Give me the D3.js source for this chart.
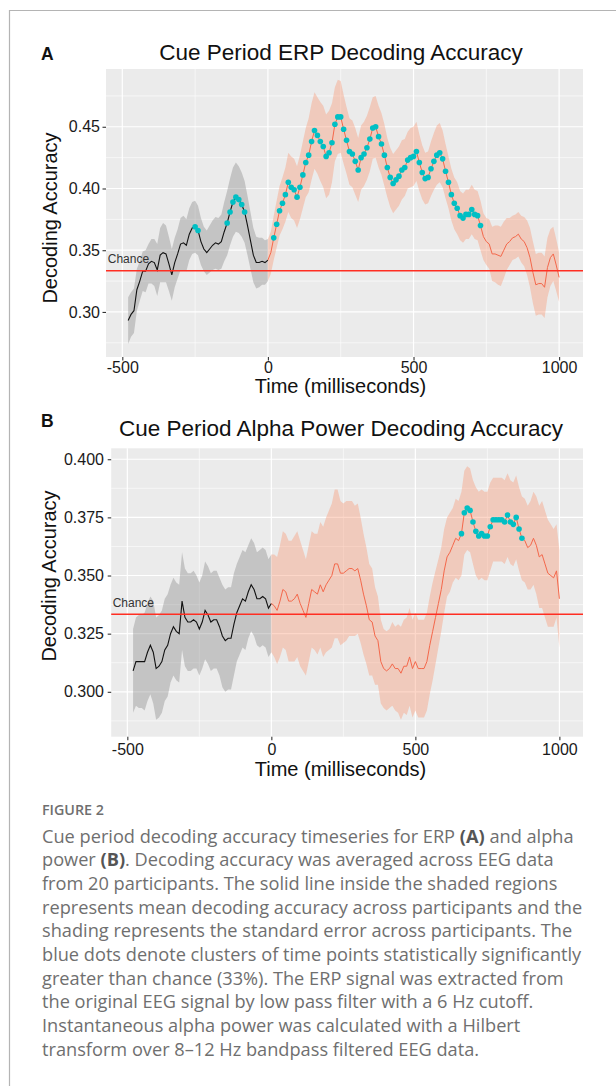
<!DOCTYPE html>
<html>
<head>
<meta charset="utf-8">
<script src="https://cdn.jsdelivr.net/npm/d3@7"></script>
<style>
  body { margin: 0; background: #fff; }
  svg { display: block; }
  .sans { font-family: "Liberation Sans", Arial, Helvetica, sans-serif; }
  .caption { font-family: "Open Sans", "Noto Sans", sans-serif; fill: #6f6f6f; }
</style>
</head>
<body>
<svg id="fig" width="616" height="1086"></svg>
<script>
// sampling grid of the time series (ms)
const START = -480;
const STEP = 10;

// panel A: ERP decoding accuracy, mean and standard error per sample
const ERP_MEAN = [
  0.293, 0.298, 0.301, 0.318, 0.325, 0.333, 0.333, 0.339, 0.341,
  0.340, 0.334, 0.346, 0.348, 0.347, 0.339, 0.330, 0.340, 0.347,
  0.355, 0.356, 0.354, 0.363, 0.368, 0.369, 0.366, 0.357, 0.351, 0.348,
  0.351, 0.354, 0.356, 0.355, 0.357, 0.365, 0.372, 0.381, 0.389, 0.393,
  0.391, 0.387, 0.381, 0.370, 0.358, 0.346, 0.340, 0.340, 0.341, 0.340,
  0.342, 0.348, 0.360, 0.371, 0.382, 0.388, 0.395, 0.405, 0.401, 0.399,
  0.393, 0.401, 0.411, 0.421, 0.427, 0.438, 0.447, 0.443, 0.438, 0.434,
  0.426, 0.429, 0.437, 0.452, 0.458, 0.458, 0.448, 0.439, 0.430, 0.428,
  0.422, 0.415, 0.425, 0.428, 0.433, 0.440, 0.449, 0.450, 0.442, 0.436,
  0.427, 0.417, 0.409, 0.404, 0.407, 0.410, 0.415, 0.417, 0.423, 0.425,
  0.426, 0.430, 0.421, 0.413, 0.408, 0.409, 0.416, 0.422, 0.427, 0.429,
  0.424, 0.414, 0.405, 0.395, 0.388, 0.384, 0.378, 0.376, 0.379, 0.379,
  0.383, 0.379, 0.378, 0.370, 0.361, 0.357, 0.355, 0.347, 0.347, 0.346,
  0.345, 0.350, 0.355, 0.357, 0.360, 0.361, 0.363, 0.359, 0.357, 0.352,
  0.344, 0.332, 0.322, 0.323, 0.323, 0.320, 0.336, 0.344, 0.347, 0.338, 0.328
];
const ERP_SE = [
  0.019, 0.018, 0.018, 0.017, 0.016, 0.016, 0.017, 0.016, 0.018,
  0.019, 0.021, 0.022, 0.024, 0.023, 0.022, 0.021, 0.020, 0.020,
  0.021, 0.022, 0.021, 0.021, 0.021, 0.021, 0.020, 0.019, 0.018, 0.018,
  0.019, 0.020, 0.021, 0.021, 0.022, 0.024, 0.026, 0.027, 0.028, 0.028,
  0.027, 0.026, 0.025, 0.024, 0.023, 0.022, 0.021, 0.020, 0.019, 0.018,
  0.017, 0.017, 0.018, 0.019, 0.020, 0.021, 0.022, 0.024, 0.025, 0.025,
  0.025, 0.026, 0.027, 0.028, 0.030, 0.031, 0.031, 0.031, 0.032, 0.033,
  0.034, 0.034, 0.032, 0.030, 0.030, 0.029, 0.028, 0.027, 0.027, 0.027,
  0.027, 0.026, 0.026, 0.026, 0.026, 0.026, 0.025, 0.025, 0.025, 0.025,
  0.025, 0.024, 0.024, 0.024, 0.024, 0.024, 0.024, 0.023, 0.023, 0.024,
  0.024, 0.024, 0.023, 0.022, 0.021, 0.021, 0.022, 0.023, 0.024, 0.024,
  0.023, 0.022, 0.021, 0.021, 0.021, 0.021, 0.020, 0.020, 0.020, 0.020,
  0.020, 0.020, 0.020, 0.020, 0.019, 0.019, 0.020, 0.022, 0.023, 0.024,
  0.024, 0.023, 0.021, 0.019, 0.018, 0.018, 0.018, 0.019, 0.020, 0.022,
  0.024, 0.025, 0.025, 0.025, 0.025, 0.025, 0.024, 0.023, 0.022, 0.021, 0.020
];
// significant clusters [from, to] in ms
const ERP_SIG = [[-250, -240], [-140, -80], [20, 730]];

// panel B: alpha power decoding accuracy
const ALPHA_MEAN = [
  0.309, 0.313, 0.313, 0.313, 0.313, 0.317, 0.320, 0.317, 0.310,
  0.311, 0.313, 0.318, 0.320, 0.325, 0.328, 0.326, 0.325, 0.339,
  0.332, 0.330, 0.330, 0.331, 0.330, 0.327, 0.330, 0.335, 0.333, 0.330,
  0.331, 0.331, 0.328, 0.324, 0.322, 0.323, 0.323, 0.329, 0.334, 0.337,
  0.340, 0.339, 0.343, 0.346, 0.344, 0.340, 0.340, 0.341, 0.340, 0.336,
  0.338, 0.337, 0.335, 0.339, 0.344, 0.343, 0.339, 0.339, 0.340, 0.342,
  0.338, 0.335, 0.332, 0.338, 0.344, 0.343, 0.342, 0.346, 0.343, 0.346,
  0.348, 0.350, 0.355, 0.355, 0.351, 0.351, 0.352, 0.353, 0.353, 0.352,
  0.353, 0.348, 0.342, 0.337, 0.331, 0.330, 0.324, 0.322, 0.313, 0.310,
  0.309, 0.310, 0.312, 0.310, 0.310, 0.308, 0.311, 0.311, 0.315, 0.310,
  0.313, 0.310, 0.310, 0.310, 0.313, 0.320, 0.326, 0.332, 0.338, 0.344,
  0.352, 0.358, 0.360, 0.363, 0.366, 0.365, 0.368, 0.377, 0.379, 0.378,
  0.373, 0.369, 0.367, 0.368, 0.367, 0.367, 0.371, 0.374, 0.374, 0.374,
  0.374, 0.373, 0.376, 0.373, 0.372, 0.375, 0.370, 0.366, 0.365, 0.362,
  0.363, 0.366, 0.363, 0.358, 0.359, 0.355, 0.351, 0.350, 0.349, 0.352, 0.340
];
const ALPHA_SE = [
  0.018, 0.019, 0.020, 0.020, 0.021, 0.021, 0.021, 0.022, 0.022,
  0.022, 0.022, 0.022, 0.022, 0.021, 0.021, 0.021, 0.021, 0.021,
  0.021, 0.021, 0.021, 0.021, 0.020, 0.020, 0.020, 0.021, 0.021, 0.021,
  0.021, 0.021, 0.021, 0.022, 0.022, 0.022, 0.022, 0.022, 0.021, 0.021,
  0.021, 0.021, 0.020, 0.020, 0.020, 0.020, 0.021, 0.021, 0.021, 0.021,
  0.021, 0.022, 0.023, 0.024, 0.025, 0.025, 0.026, 0.026, 0.027, 0.027,
  0.027, 0.026, 0.025, 0.025, 0.025, 0.025, 0.026, 0.027, 0.028, 0.029,
  0.030, 0.031, 0.032, 0.032, 0.031, 0.030, 0.030, 0.029, 0.029, 0.028,
  0.028, 0.027, 0.026, 0.025, 0.024, 0.023, 0.021, 0.019, 0.018, 0.017,
  0.017, 0.017, 0.018, 0.018, 0.019, 0.020, 0.020, 0.021, 0.021, 0.021,
  0.021, 0.021, 0.021, 0.021, 0.021, 0.021, 0.021, 0.020, 0.019, 0.018,
  0.018, 0.017, 0.017, 0.016, 0.017, 0.017, 0.018, 0.018, 0.018, 0.018,
  0.018, 0.019, 0.019, 0.019, 0.019, 0.019, 0.019, 0.018, 0.018, 0.018,
  0.018, 0.018, 0.018, 0.018, 0.018, 0.018, 0.018, 0.018, 0.018, 0.018,
  0.019, 0.020, 0.021, 0.022, 0.023, 0.023, 0.023, 0.022, 0.021, 0.020, 0.021
];
const ALPHA_SIG = [[660, 870]];

const CHANCE = 1 / 3;
const X_TICKS = [-500, 0, 500, 1000];
const X_MINOR = [-250, 250, 750];
const ERP_Y_TICKS = [0.30, 0.35, 0.40, 0.45];
const ERP_Y_MINOR = [0.275, 0.325, 0.375, 0.425, 0.475];
const ALPHA_Y_TICKS = [0.300, 0.325, 0.350, 0.375, 0.400];
const ALPHA_Y_MINOR = [0.2875, 0.3125, 0.3375, 0.3625, 0.3875];

const CAPTION_HEAD = "FIGURE 2";
const CAPTION_LINES = [
  ["Cue period decoding accuracy timeseries for ERP ", ["(A)"], " and alpha"],
  ["power ", ["(B)"], ". Decoding accuracy was averaged across EEG data"],
  ["from 20 participants. The solid line inside the shaded regions"],
  ["represents mean decoding accuracy across participants and the"],
  ["shading represents the standard error across participants. The"],
  ["blue dots denote clusters of time points statistically significantly"],
  ["greater than chance (33%). The ERP signal was extracted from"],
  ["the original EEG signal by low pass filter with a 6 Hz cutoff."],
  ["Instantaneous alpha power was calculated with a Hilbert"],
  ["transform over 8\u201312 Hz bandpass filtered EEG data."]
];

const svg = d3.select("#fig");

// frame of the figure box
svg.append("line").attr("x1", 9.5).attr("x2", 9.5).attr("y1", 10).attr("y2", 1086)
  .attr("stroke", "#b4b4b4").attr("stroke-width", 1.2);
svg.append("line").attr("x1", 9.5).attr("x2", 616).attr("y1", 10.5).attr("y2", 10.5)
  .attr("stroke", "#b4b4b4").attr("stroke-width", 1.2);

function series(mean, se) {
  return mean.map((v, i) => ({ t: START + i * STEP, v, se: se[i] }));
}

function drawPanel(cfg) {
  const data = series(cfg.mean, cfg.se);
  const pre = data.filter((d) => d.t <= 0);
  const post = data.filter((d) => d.t >= 0);

  const x = d3.scaleLinear().domain([-556, 1082]).range([cfg.left, cfg.right]);
  const y = d3.scaleLinear().domain(cfg.yDomain).range([cfg.bottom, cfg.top]);

  const g = svg.append("g");

  g.append("rect")
    .attr("x", cfg.left).attr("y", cfg.top)
    .attr("width", cfg.right - cfg.left).attr("height", cfg.bottom - cfg.top)
    .attr("fill", "#ebebeb");

  const grid = g.append("g").attr("stroke", "#fff");
  grid.selectAll(".vmin").data(X_MINOR).join("line")
    .attr("x1", (d) => x(d)).attr("x2", (d) => x(d))
    .attr("y1", cfg.top).attr("y2", cfg.bottom).attr("stroke-width", 0.6);
  grid.selectAll(".hmin").data(cfg.yMinor).join("line")
    .attr("x1", cfg.left).attr("x2", cfg.right)
    .attr("y1", (d) => y(d)).attr("y2", (d) => y(d)).attr("stroke-width", 0.6);
  grid.selectAll(".vmaj").data(X_TICKS).join("line")
    .attr("x1", (d) => x(d)).attr("x2", (d) => x(d))
    .attr("y1", cfg.top).attr("y2", cfg.bottom).attr("stroke-width", 1.2);
  grid.selectAll(".hmaj").data(cfg.yTicks).join("line")
    .attr("x1", cfg.left).attr("x2", cfg.right)
    .attr("y1", (d) => y(d)).attr("y2", (d) => y(d)).attr("stroke-width", 1.2);

  const band = d3.area()
    .x((d) => x(d.t))
    .y0((d) => y(d.v - d.se))
    .y1((d) => y(d.v + d.se));
  const line = d3.line().x((d) => x(d.t)).y((d) => y(d.v));

  g.append("path").datum(pre).attr("d", band)
    .attr("fill", "#7f7f7f").attr("fill-opacity", 0.36);
  g.append("path").datum(post).attr("d", band)
    .attr("fill", "#fa8c64").attr("fill-opacity", 0.35);

  g.append("path").datum(pre).attr("d", line)
    .attr("fill", "none").attr("stroke", "#111").attr("stroke-width", 1.1);
  g.append("path").datum(post).attr("d", line)
    .attr("fill", "none").attr("stroke", "#f4684b").attr("stroke-width", 1);

  g.append("line")
    .attr("x1", cfg.left).attr("x2", cfg.right)
    .attr("y1", y(CHANCE)).attr("y2", y(CHANCE))
    .attr("stroke", "#ff2e22").attr("stroke-width", 1.4);

  const sig = data.filter((d) => cfg.sig.some(([a, b]) => d.t >= a && d.t <= b));
  g.append("g").selectAll("circle").data(sig).join("circle")
    .attr("cx", (d) => x(d.t)).attr("cy", (d) => y(d.v))
    .attr("r", 2.8).attr("fill", "#00bfc4");

  g.append("text").attr("class", "sans")
    .attr("x", x(cfg.chanceAt[0])).attr("y", y(cfg.chanceAt[1]))
    .attr("font-size", 12).attr("fill", "#333")
    .text("Chance");

  // axes
  const xAxis = g.append("g")
    .attr("transform", `translate(0,${cfg.bottom})`)
    .call(d3.axisBottom(x).tickValues(X_TICKS).tickSize(3.5).tickPadding(cfg.xPad)
      .tickFormat((d) => String(d)));
  const yAxis = g.append("g")
    .attr("transform", `translate(${cfg.left},0)`)
    .call(d3.axisLeft(y).tickValues(cfg.yTicks).tickSize(3.5).tickPadding(cfg.yPad)
      .tickFormat(d3.format(cfg.yFmt)));
  [xAxis, yAxis].forEach((a) => {
    a.select(".domain").remove();
    a.selectAll(".tick line").attr("stroke", "#333").attr("stroke-width", 1.1);
    a.selectAll(".tick text").attr("class", "sans")
      .attr("font-size", 16).attr("fill", "#1a1a1a");
  });

  g.append("text").attr("class", "sans")
    .attr("x", 341).attr("y", cfg.titleY)
    .attr("text-anchor", "middle").attr("font-size", 22.5).attr("fill", "#111")
    .text(cfg.title);
  g.append("text").attr("class", "sans")
    .attr("x", 41).attr("y", cfg.letterY)
    .attr("font-size", 17.5).attr("font-weight", "bold").attr("fill", "#111")
    .text(cfg.letter);
  g.append("text").attr("class", "sans")
    .attr("x", 340.5).attr("y", cfg.xTitleY)
    .attr("text-anchor", "middle").attr("font-size", 20).attr("fill", "#111")
    .text("Time (milliseconds)");
  g.append("text").attr("class", "sans")
    .attr("transform", `translate(${cfg.yTitleX},${cfg.yTitleY}) rotate(-90)`)
    .attr("text-anchor", "middle").attr("font-size", 20).attr("fill", "#111")
    .text("Decoding Accuracy");
}

drawPanel({
  mean: ERP_MEAN, se: ERP_SE, sig: ERP_SIG,
  left: 106, right: 583, top: 69, bottom: 357,
  yDomain: [0.2635, 0.4968], yTicks: ERP_Y_TICKS, yMinor: ERP_Y_MINOR, yFmt: ".2f",
  xPad: 1.5, yPad: 2.5,
  chanceAt: [-550, 0.3393],
  title: "Cue Period ERP Decoding Accuracy", titleY: 59.5,
  letter: "A", letterY: 59.5,
  xTitleY: 393, yTitleX: 57, yTitleY: 218
});

drawPanel({
  mean: ALPHA_MEAN, se: ALPHA_SE, sig: ALPHA_SIG,
  left: 111.2, right: 583, top: 448.3, bottom: 736.7,
  yDomain: [0.2807, 0.4047], yTicks: ALPHA_Y_TICKS, yMinor: ALPHA_Y_MINOR, yFmt: ".3f",
  xPad: 3, yPad: 3.7,
  chanceAt: [-551, 0.3366],
  title: "Cue Period Alpha Power Decoding Accuracy", titleY: 436,
  letter: "B", letterY: 427,
  xTitleY: 776, yTitleX: 56, yTitleY: 576
});

// caption
svg.append("text").attr("class", "caption")
  .attr("x", 42).attr("y", 815)
  .attr("font-size", 14.3).attr("font-weight", 600).attr("fill", "#6b6b6b")
  .text(CAPTION_HEAD);

const cap = svg.append("g");
CAPTION_LINES.forEach((parts, i) => {
  const t = cap.append("text").attr("class", "caption")
    .attr("x", 42).attr("y", 842.7 + i * 23.67)
    .attr("font-size", 18.2);
  parts.forEach((p) => {
    if (Array.isArray(p)) {
      t.append("tspan").attr("font-weight", "bold").attr("fill", "#555").text(p[0]);
    } else {
      t.append("tspan").text(p);
    }
  });
});
</script>
</body>
</html>
